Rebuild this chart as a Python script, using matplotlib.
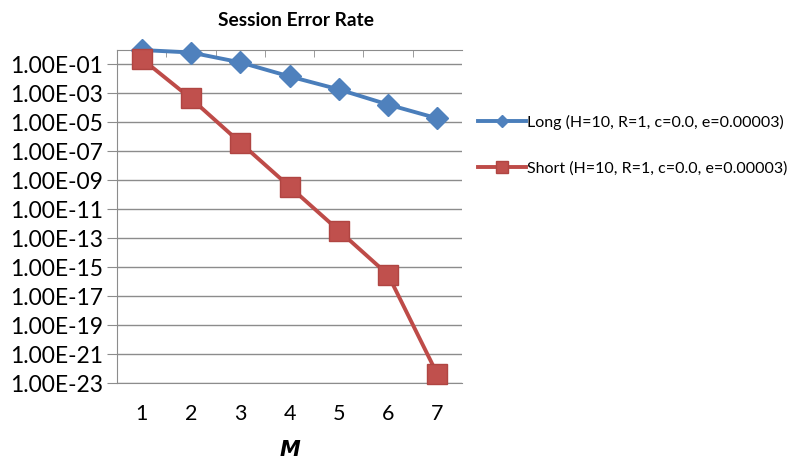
import numpy as np
import matplotlib
matplotlib.use('Agg')
import matplotlib.pyplot as plt

plt.rcParams['font.family'] = ['Lato', 'DejaVu Sans']

M = [1, 2, 3, 4, 5, 6, 7]
long_rate = [1.0, 0.67, 0.14, 0.015, 1.9e-3, 1.7e-4, 1.9e-5]
short_rate = [0.25, 4.5e-4, 4.0e-7, 3.7e-10, 3.4e-13, 3.0e-16, 4.0e-23]
long_label = 'Long (H=10, R=1, c=0.0, e=0.00003)'
short_label = 'Short (H=10, R=1, c=0.0, e=0.00003)'
ytick_exp = np.arange(-23, 0, 2)

blue = '#4a7ebb'
red = '#be4b48'
grid_col = '#8c8c8c'

fig = plt.figure(figsize=(7.91, 4.63), dpi=100)
ax = fig.add_axes([117/791, 1-383/463, (462-117)/791, (383-50)/463])

ax.plot(M, long_rate, color=blue, lw=2.8, marker='D', ms=11,
        mfc='#4f81bd', mec='#4f81bd', label=long_label, zorder=3, clip_on=False)
ax.plot(M, short_rate, color=red, lw=2.8, marker='s', ms=14,
        mfc='#c0504d', mec='#b04542', label=short_label, zorder=3, clip_on=False)

ax.set_yscale('log')
ax.set_ylim(1e-23, 1)
ax.set_xlim(0.5, 7.5)
ax.set_yticks(10.0 ** ytick_exp)
ax.set_yticklabels(['1.00E-%02d' % -e for e in ytick_exp])
ax.yaxis.set_minor_locator(matplotlib.ticker.NullLocator())
ax.set_xticks(M)
ax.set_xticks(np.arange(1.5, 7, 1), minor=True)
ax.tick_params(axis='x', which='major', length=0, labelsize=15.5, pad=15)
ax.tick_params(axis='x', which='minor', top=True, bottom=False,
               direction='in', length=5, color=grid_col)
ax.tick_params(axis='y', which='major', length=7, color=grid_col,
               labelsize=16.5, pad=3)
ax.grid(axis='y', color=grid_col, lw=1)
for s in ['left', 'top', 'bottom']:
    ax.spines[s].set_color(grid_col)
ax.spines['right'].set_visible(False)

ax.set_title('Session Error Rate', fontsize=13.8, fontweight='bold', pad=17, x=0.52)
ax.set_xlabel('M', fontsize=15, fontweight='bold', style='italic',
              family='DejaVu Sans', labelpad=12)

fig.legend(loc='upper left', bbox_to_anchor=(470/791, 1-107/463),
           frameon=False, fontsize=11.5, handlelength=3.0, handletextpad=0.05,
           labelspacing=1.95, markerscale=0.6, borderpad=0)

fig.savefig('out.png', dpi=100)
